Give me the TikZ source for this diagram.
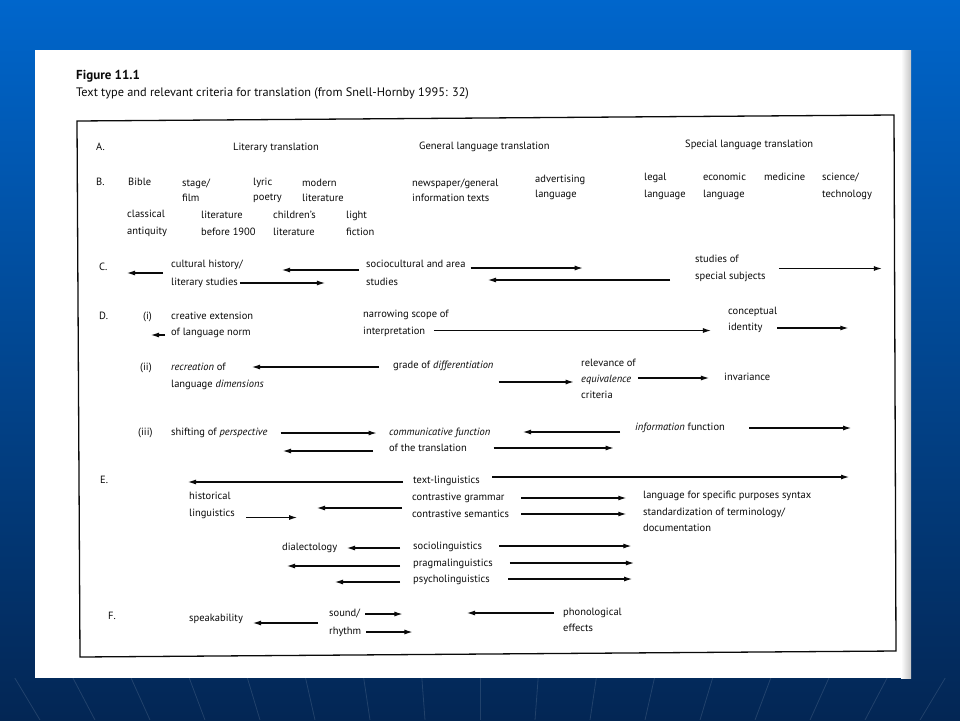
\documentclass[tikz,border=0pt]{standalone}
\usepackage{fontspec}
\setmainfont{PT Sans}
\usetikzlibrary{arrows.meta}
\definecolor{bgtop}{RGB}{0,102,204}
\definecolor{bgbot}{RGB}{3,38,84}
\definecolor{ink}{RGB}{10,10,10}

\begin{document}
\begin{tikzpicture}[x=1pt, y=-1pt,
  lbl/.style={anchor=mid west, inner sep=0pt, text=ink, font=\fontsize{10.5}{16.5}\selectfont},
  blk/.style={anchor=west, align=left, inner sep=0pt, text=ink, font=\fontsize{10.5}{#1}\selectfont},
  blk/.default=16.5,
  arr/.style={-{Latex[length=8pt,width=5pt]}, line width=1.1pt, draw=ink}]
\useasboundingbox (0,0) rectangle (960,720);
% slide background
\shade[top color=bgtop, bottom color=bgbot] (0,0) rectangle (960,720);
\begin{scope}
\clip (0,678) rectangle (960,720);
\foreach \k in {-9,...,9}
  \draw[white, opacity=0.12, line width=0.8pt] (480+55*\k,720) -- (480+64*\k,600);
\end{scope}
% scanned page
\fill[white] (35,50) rectangle (911,678);
\shade[left color=white, right color=gray!45] (901,50) rectangle (911,678);
\node[lbl, font=\fontsize{13}{15}\selectfont\bfseries] (fig) at (76,77) {Figure 11.1};
\node[lbl, font=\fontsize{12.3}{14}\selectfont] (cap) at (76,94) {Text type and relevant criteria for translation (from Snell-Hornby 1995: 32)};
\draw[line width=1.3pt, ink] (77,121) -- (894,115) -- (896,651) -- (80,657) -- cycle;

% A.
\node[lbl] (rA) at (96,148) {A.};
\node[lbl] (lit) at (233,148) {Literary translation};
\node[lbl] (gen) at (419,147) {General language translation};
\node[lbl] (spec) at (685,145) {Special language translation};

% B.
\node[lbl] (rB) at (96,183) {B.};
\node[lbl] (bible) at (128,183) {Bible};
\node[blk=15] (stage) at (182,190.5) {stage/\\film};
\node[blk=15] (lyric) at (253,190.5) {lyric\\poetry};
\node[blk=15] (modern) at (302,190.5) {modern\\literature};
\node[blk=15] (news) at (412,190.5) {newspaper/general\\information texts};
\node[blk=15] (advert) at (535,187.5) {advertising\\language};
\node[blk=17] (legal) at (644,186.5) {legal\\language};
\node[blk=17] (econ) at (703,186.5) {economic\\language};
\node[lbl] (med) at (764,178) {medicine};
\node[blk=17] (sci) at (822,186.5) {science/\\technology};
\node[blk=17] (classic) at (127,223.5) {classical\\antiquity};
\node[blk=17] (litold) at (201,223.5) {literature\\before 1900};
\node[blk=17] (child) at (273,223.5) {children's\\literature};
\node[blk=17] (light) at (346,223.5) {light\\fiction};

% C.
\node[lbl] (rC) at (99,268) {C.};
\node[blk=18] (cult) at (171,274) {cultural history/\\literary studies};
\node[blk=18] (socio) at (366,273) {sociocultural and area\\studies};
\node[blk=17] (subj) at (695,268.5) {studies of\\special subjects};
\draw[arr] (cult.west) ++(-8,-1) -- ++(-36,0);
\draw[arr] (cult.east) ++(-3,9) -- ++(85,0);
\draw[arr] (socio.west) ++(-7,-3) -- ++(-77,0);
\draw[arr] (socio.east) ++(5,-5) -- ++(112,0);
\draw[arr] (subj.west) ++(-25,11.5) -- ++(-182,0);
\draw[arr] (subj.east) ++(13,0) -- ++(103,0);

% D. (i)
\node[lbl] (rD) at (99,317) {D.};
\node[lbl] (di) at (143,317) {(i)};
\node[blk=16] (creat) at (171,325) {creative extension\\of language norm};
\node[blk=17] (narrow) at (363,323.5) {narrowing scope of\\interpretation};
\node[blk=16] (concep) at (728,320) {conceptual\\identity};
\draw[arr] (creat.west) ++(-6,10) -- ++(-14,0);
\draw[arr] (narrow.east) ++(-15,7) -- ++(277,0);
\draw[arr] (concep.east) ++(0,8) -- ++(71,0);

% D. (ii)
\node[lbl] (dii) at (140,368) {(ii)};
\node[blk=17] (recr) at (171,376.5) {\textit{recreation} of\\language \textit{dimensions}};
\node[lbl] (grade) at (393,366) {grade of \textit{differentiation}};
\node[blk=16] (relev) at (581,379) {relevance of\\\textit{equivalence}\\criteria};
\node[lbl] (invar) at (724,378) {invariance};
\draw[arr] (grade.mid west) ++(-14,1) -- ++(-127,0);
\draw[arr] (grade.mid east) ++(5,16) -- ++(75,0);
\draw[arr] (relev.east) ++(2,-1) -- ++(71,0);

% D. (iii)
\node[lbl] (diii) at (138,433) {(iii)};
\node[lbl] (shift) at (171,433) {shifting of \textit{perspective}};
\node[blk=16] (comm) at (389,440) {\textit{communicative function}\\of the translation};
\node[lbl] (info) at (635,428) {\textit{information} function};
\draw[arr] (shift.mid east) ++(13,0) -- ++(96,0);
\draw[arr] (comm.west) ++(-16,11) -- ++(-90,0);
\draw[arr] (comm.east) ++(3,8) -- ++(120,0);
\draw[arr] (info.mid west) ++(-15,4) -- ++(-97,0);
\draw[arr] (info.mid east) ++(24,0) -- ++(102,0);

% E.
\node[lbl] (rE) at (100,481) {E.};
\node[lbl] (tling) at (413,481) {text-linguistics};
\node[blk=17] (hist) at (189,505.5) {historical\\linguistics};
\node[blk=17] (contr) at (412,505.5) {contrastive grammar\\contrastive semantics};
\node[blk] (lsp) at (643,511.5) {language for specific purposes syntax\\standardization of terminology/\\documentation};
\node[lbl] (dial) at (282,548) {dialectology};
\node[lbl] (socl) at (413,547) {sociolinguistics};
\node[lbl] (prag) at (413,564) {pragmalinguistics};
\node[lbl] (psych) at (413,580) {psycholinguistics};
\draw[arr] (tling.mid west) ++(-10,1) -- ++(-215,0);
\draw[arr] (tling.mid east) ++(12,-4) -- ++(357,0);
\draw[arr] (hist.east) ++(11,12) -- ++(51,0);
\draw[arr] (contr.west) ++(-10,2.5) -- ++(-85,0);
\draw[arr] (contr.east) ++(12,-7.5) -- ++(105,0);
\draw[arr] (contr.east) ++(12,8.5) -- ++(105,0);
\draw[arr] (socl.mid west) ++(-13,1) -- ++(-53,0);
\draw[arr] (socl.mid east) ++(17,-1) -- ++(132,0);
\draw[arr] (prag.mid west) ++(-13,2) -- ++(-113,0);
\draw[arr] (prag.mid east) ++(17,-1) -- ++(124,0);
\draw[arr] (psych.mid west) ++(-13,2) -- ++(-65,0);
\draw[arr] (psych.mid east) ++(18,-1) -- ++(124,0);

% F.
\node[lbl] (rF) at (108,617) {F.};
\node[lbl] (speak) at (189,619) {speakability};
\node[blk=18] (sound) at (329,623) {sound/\\rhythm};
\node[blk] (phon) at (563,620) {phonological\\effects};
\draw[arr] (sound.west) ++(-11,0) -- ++(-65,0);
\draw[arr] (sound.east) ++(4,-9) -- ++(37,0);
\draw[arr] (sound.east) ++(5,9) -- ++(46,0);
\draw[arr] (phon.west) ++(-9,-7) -- ++(-87,0);
\end{tikzpicture}
\end{document}
